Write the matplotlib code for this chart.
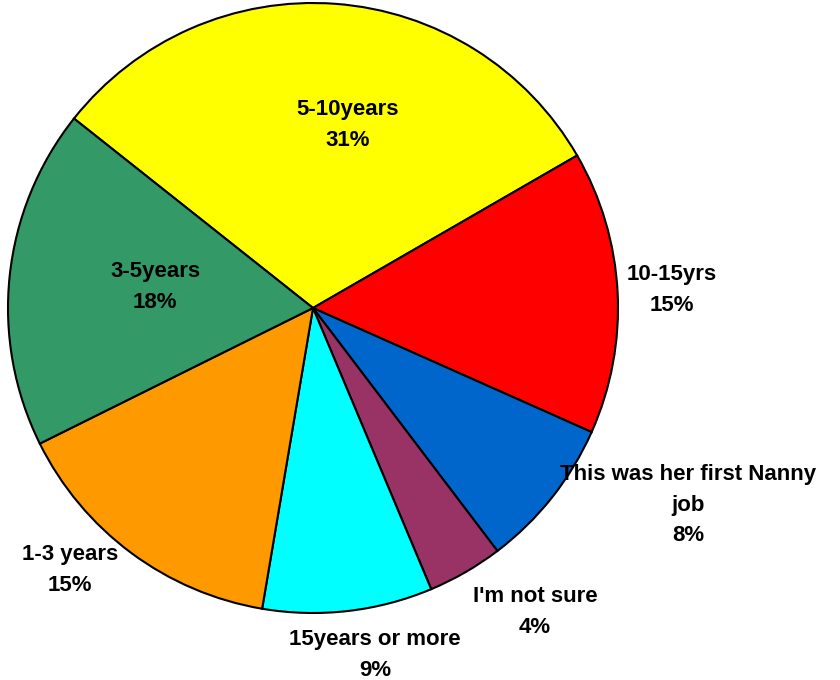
import matplotlib.pyplot as plt

labels = ["5-10years", "10-15yrs", "This was her first Nanny\njob", "I'm not sure",
          "15years or more", "1-3 years", "3-5years"]
percents = [31, 15, 8, 4, 9, 15, 18]
colors = ["#FFFF00", "#FF0000", "#0066CC", "#993366", "#00FFFF", "#FF9900", "#339966"]

# label centres in pie units (radius 1)
label_pos = [(0.115, 0.60), (1.177, 0.059), (1.23, -0.646), (0.728, -0.997),
             (0.203, -1.138), (-0.797, -0.859), (-0.518, 0.069)]

plt.rcParams['font.family'] = ['Liberation Sans', 'DejaVu Sans']

fig = plt.figure(figsize=(8.4, 6.8), dpi=100)
ax = fig.add_axes([0, 0, 1, 1])

ax.pie(percents, colors=colors, startangle=141.6, counterclock=False,
       radius=1.0, wedgeprops=dict(edgecolor="black", linewidth=1.5))

for lab, p, (x, y) in zip(labels, percents, label_pos):
    ax.text(x, y, "%s\n%d%%" % (lab, p), ha="center", va="center",
            fontsize=16, fontweight="bold", linespacing=1.6)

ax.set_xlim(-313 / 305, (840 - 313) / 305)
ax.set_ylim((308 - 680) / 305, 308 / 305)
ax.set_aspect("equal")
ax.axis("off")

fig.savefig("out.png", dpi=100)
